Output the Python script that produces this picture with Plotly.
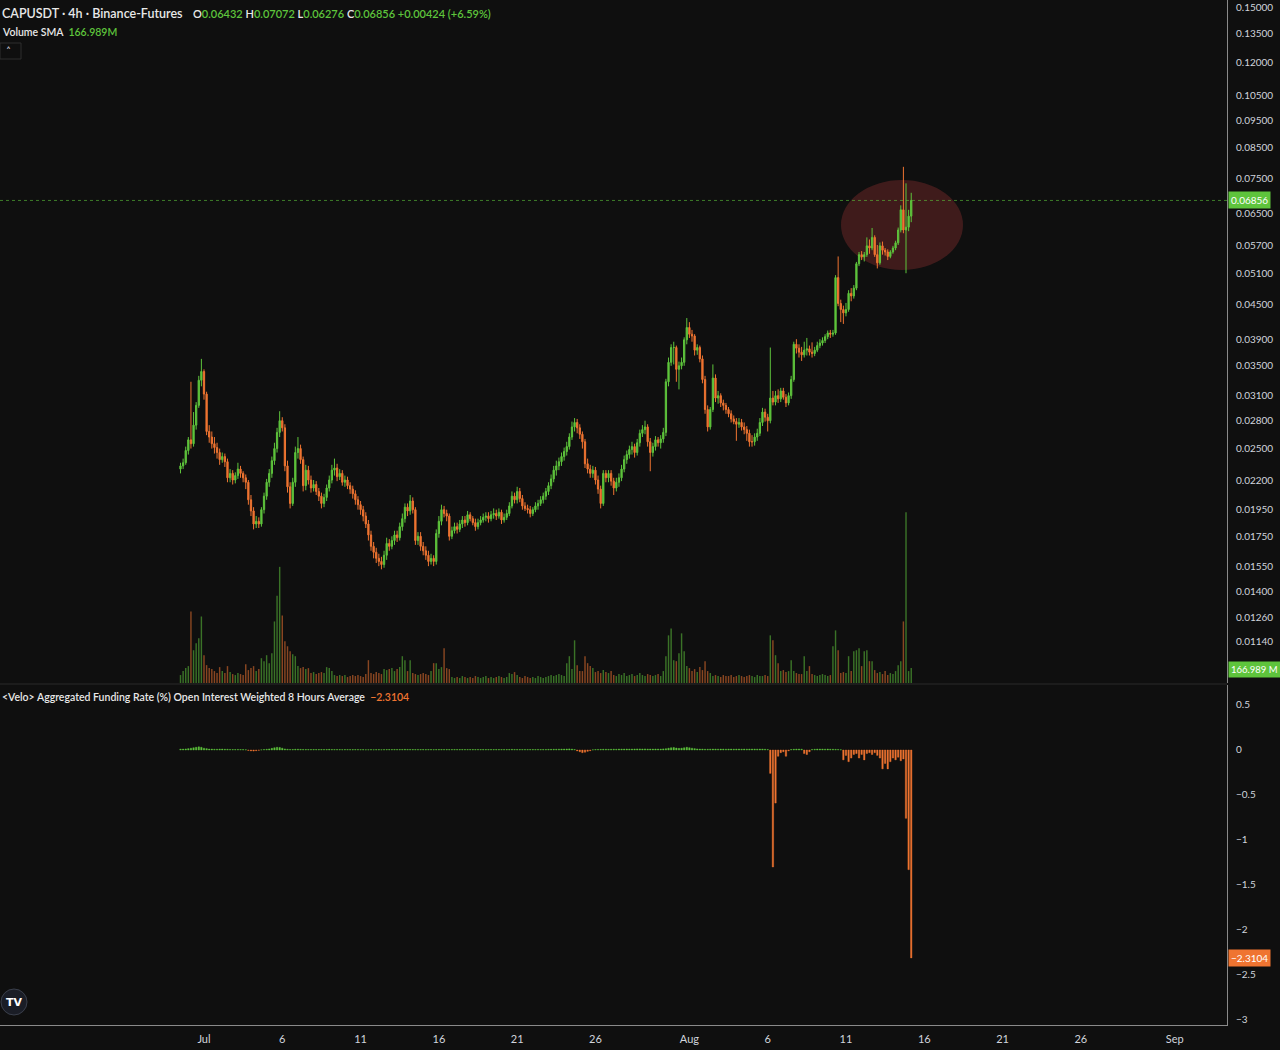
import math
import pandas as pd
import plotly.graph_objects as go

# CAPUSDT 4h candles, Jun 29 12:00 -> Aug 15 04:00
start = "2025-06-29 12:00"
closes = [
    0.0233, 0.0236, 0.0248, 0.0259, 0.0255, 0.0275, 0.0298, 0.0330, 0.0342, 0.0312,
    0.0268, 0.0262, 0.0255, 0.0251, 0.0246, 0.0239, 0.0242, 0.0237, 0.0222, 0.0226,
    0.0220, 0.0224, 0.0230, 0.0226, 0.0222, 0.0218, 0.0203, 0.0194, 0.0184, 0.0186,
    0.0184, 0.0195, 0.0206, 0.0218, 0.0226, 0.0238, 0.0250, 0.0267, 0.0280, 0.0272,
    0.0233, 0.0214, 0.0200, 0.0218, 0.0246, 0.0250, 0.0239, 0.0215, 0.0229, 0.0220,
    0.0213, 0.0216, 0.0210, 0.0206, 0.0200, 0.0205, 0.0213, 0.0220, 0.0229, 0.0231,
    0.0223, 0.0226, 0.0218, 0.0220, 0.0215, 0.0212, 0.0208, 0.0203, 0.0199, 0.0195,
    0.0190, 0.0184, 0.0176, 0.0168, 0.0164, 0.0160, 0.0158, 0.0156, 0.0162, 0.0170,
    0.0168, 0.0172, 0.0176, 0.0174, 0.0182, 0.0188, 0.0197, 0.0194, 0.0202, 0.0195,
    0.0172, 0.0175, 0.0168, 0.0165, 0.0162, 0.0158, 0.0160, 0.0158, 0.0177, 0.0186,
    0.0195, 0.0192, 0.0190, 0.0175, 0.0179, 0.0182, 0.0180, 0.0184, 0.0187, 0.0185,
    0.0191, 0.0188, 0.0185, 0.0182, 0.0185, 0.0187, 0.0189, 0.0190, 0.0188, 0.0191,
    0.0192, 0.0190, 0.0193, 0.0187, 0.0189, 0.0192, 0.0198, 0.0206, 0.0203, 0.0210,
    0.0204, 0.0198, 0.0196, 0.0195, 0.0192, 0.0195, 0.0198, 0.0200, 0.0203, 0.0206,
    0.0210, 0.0215, 0.0221, 0.0229, 0.0233, 0.0237, 0.0242, 0.0247, 0.0252, 0.0262,
    0.0273, 0.0278, 0.0272, 0.0265, 0.0257, 0.0235, 0.0230, 0.0226, 0.0229, 0.0220,
    0.0212, 0.0200, 0.0226, 0.0222, 0.0226, 0.0219, 0.0213, 0.0218, 0.0222, 0.0230,
    0.0239, 0.0244, 0.0249, 0.0252, 0.0246, 0.0256, 0.0266, 0.0270, 0.0273, 0.0257,
    0.0246, 0.0252, 0.0259, 0.0256, 0.0260, 0.0267, 0.0328, 0.0355, 0.0377, 0.0377,
    0.0345, 0.0350, 0.0355, 0.0389, 0.0409, 0.0398, 0.0395, 0.0373, 0.0377, 0.0360,
    0.0331, 0.0293, 0.0273, 0.0293, 0.0333, 0.0307, 0.0310, 0.0301, 0.0298, 0.0293,
    0.0288, 0.0282, 0.0279, 0.0276, 0.0278, 0.0273, 0.0270, 0.0266, 0.0257, 0.0257,
    0.0262, 0.0266, 0.0278, 0.0290, 0.0284, 0.0280, 0.0307, 0.0302, 0.0310, 0.0306,
    0.0316, 0.0308, 0.0301, 0.0310, 0.0331, 0.0382, 0.0376, 0.0370, 0.0366, 0.0373,
    0.0375, 0.0370, 0.0368, 0.0373, 0.0380, 0.0384, 0.0388, 0.0394, 0.0400, 0.0398,
    0.0400, 0.0501, 0.0451, 0.0440, 0.0434, 0.0440, 0.0470, 0.0465, 0.0480, 0.0530,
    0.0550, 0.0545, 0.0550, 0.0570, 0.0565, 0.0590, 0.0550, 0.0532, 0.0570, 0.0560,
    0.0556, 0.0546, 0.0556, 0.0565, 0.0577, 0.0608, 0.0660, 0.0608, 0.0615, 0.06432, 0.06856,
]
highs = [
    0.0236, 0.0240, 0.0252, 0.0262, 0.0328, 0.0290, 0.0302, 0.0336, 0.0360, 0.0345,
    0.0315, 0.0275, 0.0268, 0.0262, 0.0256, 0.0250, 0.0246, 0.0245, 0.0240, 0.0230,
    0.0229, 0.0227, 0.0236, 0.0233, 0.0228, 0.0225, 0.0220, 0.0207, 0.0197, 0.0190,
    0.0189, 0.0197, 0.0209, 0.0221, 0.0230, 0.0242, 0.0256, 0.0272, 0.0291, 0.0284,
    0.0276, 0.0238, 0.0218, 0.0222, 0.0252, 0.0262, 0.0254, 0.0242, 0.0234, 0.0233,
    0.0224, 0.0220, 0.0219, 0.0213, 0.0209, 0.0208, 0.0216, 0.0224, 0.0234, 0.0240,
    0.0235, 0.0230, 0.0229, 0.0224, 0.0223, 0.0218, 0.0215, 0.0211, 0.0206, 0.0202,
    0.0198, 0.0193, 0.0187, 0.0179, 0.0171, 0.0167, 0.0163, 0.0161, 0.0165, 0.0174,
    0.0173, 0.0175, 0.0179, 0.0179, 0.0185, 0.0192, 0.0200, 0.0200, 0.0207, 0.0205,
    0.0197, 0.0178, 0.0178, 0.0171, 0.0168, 0.0165, 0.0163, 0.0162, 0.0180, 0.0190,
    0.0199, 0.0198, 0.0195, 0.0192, 0.0182, 0.0185, 0.0185, 0.0187, 0.0190, 0.0190,
    0.0194, 0.0193, 0.0190, 0.0188, 0.0188, 0.0190, 0.0192, 0.0193, 0.0193, 0.0194,
    0.0196, 0.0195, 0.0196, 0.0195, 0.0192, 0.0195, 0.0201, 0.0210, 0.0209, 0.0214,
    0.0213, 0.0207, 0.0201, 0.0199, 0.0198, 0.0197, 0.0201, 0.0203, 0.0206, 0.0209,
    0.0213, 0.0218, 0.0225, 0.0233, 0.0238, 0.0241, 0.0246, 0.0251, 0.0257, 0.0266,
    0.0279, 0.0283, 0.0282, 0.0276, 0.0268, 0.0260, 0.0240, 0.0234, 0.0233, 0.0232,
    0.0224, 0.0215, 0.0229, 0.0229, 0.0229, 0.0229, 0.0222, 0.0222, 0.0226, 0.0234,
    0.0243, 0.0248, 0.0253, 0.0257, 0.0255, 0.0260, 0.0270, 0.0275, 0.0280, 0.0276,
    0.0261, 0.0256, 0.0263, 0.0262, 0.0264, 0.0272, 0.0332, 0.0362, 0.0382, 0.0386,
    0.0380, 0.0356, 0.0362, 0.0393, 0.0425, 0.0418, 0.0405, 0.0398, 0.0382, 0.0380,
    0.0365, 0.0336, 0.0298, 0.0296, 0.0352, 0.0338, 0.0316, 0.0313, 0.0305, 0.0301,
    0.0296, 0.0292, 0.0286, 0.0283, 0.0283, 0.0282, 0.0278, 0.0274, 0.0270, 0.0264,
    0.0266, 0.0271, 0.0283, 0.0295, 0.0294, 0.0288, 0.0377, 0.0316, 0.0316, 0.0318,
    0.0320, 0.0320, 0.0312, 0.0314, 0.0336, 0.0386, 0.0390, 0.0382, 0.0378, 0.0386,
    0.0392, 0.0380, 0.0385, 0.0378, 0.0386, 0.0390, 0.0393, 0.0398, 0.0404, 0.0405,
    0.0405, 0.0506, 0.0546, 0.0458, 0.0447, 0.0452, 0.0476, 0.0480, 0.0486, 0.0534,
    0.0556, 0.0558, 0.0556, 0.0590, 0.0585, 0.0613, 0.0595, 0.0572, 0.0578, 0.0580,
    0.0565, 0.0562, 0.0560, 0.0570, 0.0582, 0.0614, 0.0672, 0.0786, 0.0735, 0.0660, 0.07072,
]
lows = [
    0.0226, 0.0230, 0.0234, 0.0244, 0.0250, 0.0252, 0.0270, 0.0295, 0.0322, 0.0305,
    0.0264, 0.0256, 0.0250, 0.0245, 0.0240, 0.0234, 0.0236, 0.0232, 0.0218, 0.0218,
    0.0216, 0.0217, 0.0221, 0.0222, 0.0218, 0.0212, 0.0199, 0.0190, 0.0180, 0.0181,
    0.0181, 0.0182, 0.0192, 0.0203, 0.0214, 0.0222, 0.0234, 0.0246, 0.0262, 0.0268,
    0.0228, 0.0209, 0.0196, 0.0198, 0.0214, 0.0240, 0.0235, 0.0210, 0.0211, 0.0216,
    0.0209, 0.0210, 0.0207, 0.0202, 0.0196, 0.0197, 0.0202, 0.0210, 0.0217, 0.0224,
    0.0219, 0.0220, 0.0215, 0.0214, 0.0212, 0.0208, 0.0204, 0.0199, 0.0195, 0.0191,
    0.0186, 0.0181, 0.0172, 0.0165, 0.0160, 0.0157, 0.0155, 0.0153, 0.0154, 0.0159,
    0.0165, 0.0166, 0.0169, 0.0171, 0.0172, 0.0179, 0.0185, 0.0190, 0.0191, 0.0192,
    0.0169, 0.0169, 0.0165, 0.0162, 0.0159, 0.0155, 0.0156, 0.0155, 0.0156, 0.0174,
    0.0183, 0.0189, 0.0186, 0.0172, 0.0173, 0.0177, 0.0177, 0.0178, 0.0181, 0.0182,
    0.0183, 0.0186, 0.0183, 0.0179, 0.0180, 0.0183, 0.0185, 0.0186, 0.0185, 0.0186,
    0.0188, 0.0187, 0.0188, 0.0184, 0.0185, 0.0187, 0.0190, 0.0196, 0.0200, 0.0200,
    0.0201, 0.0195, 0.0194, 0.0192, 0.0189, 0.0190, 0.0193, 0.0195, 0.0198, 0.0200,
    0.0203, 0.0207, 0.0212, 0.0218, 0.0224, 0.0229, 0.0233, 0.0238, 0.0243, 0.0249,
    0.0259, 0.0268, 0.0266, 0.0260, 0.0250, 0.0231, 0.0226, 0.0222, 0.0222, 0.0216,
    0.0208, 0.0196, 0.0198, 0.0218, 0.0218, 0.0215, 0.0207, 0.0210, 0.0214, 0.0219,
    0.0227, 0.0235, 0.0240, 0.0244, 0.0241, 0.0243, 0.0252, 0.0262, 0.0265, 0.0252,
    0.0228, 0.0242, 0.0248, 0.0252, 0.0250, 0.0256, 0.0263, 0.0322, 0.0350, 0.0352,
    0.0328, 0.0318, 0.0345, 0.0350, 0.0382, 0.0392, 0.0386, 0.0365, 0.0366, 0.0355,
    0.0326, 0.0288, 0.0268, 0.0270, 0.0290, 0.0302, 0.0300, 0.0296, 0.0292, 0.0288,
    0.0284, 0.0278, 0.0276, 0.0258, 0.0272, 0.0269, 0.0265, 0.0258, 0.0252, 0.0252,
    0.0253, 0.0258, 0.0263, 0.0274, 0.0279, 0.0268, 0.0277, 0.0298, 0.0298, 0.0301,
    0.0302, 0.0305, 0.0296, 0.0298, 0.0306, 0.0328, 0.0368, 0.0362, 0.0357, 0.0362,
    0.0365, 0.0365, 0.0362, 0.0364, 0.0370, 0.0376, 0.0380, 0.0384, 0.0390, 0.0392,
    0.0394, 0.0397, 0.0446, 0.0418, 0.0415, 0.0428, 0.0436, 0.0455, 0.0460, 0.0476,
    0.0525, 0.0538, 0.0535, 0.0545, 0.0552, 0.0560, 0.0545, 0.0520, 0.0528, 0.0550,
    0.0548, 0.0538, 0.0542, 0.0552, 0.0560, 0.0572, 0.0602, 0.0600, 0.0510, 0.0605, 0.06276,
]
first_open = 0.0230
opens = [first_open] + closes[:-1]

volume = [
    8, 12, 15, 17, 72, 33, 40, 45, 67, 28,
    18, 15, 14, 12, 10, 16, 12, 10, 17, 11,
    9, 8, 10, 9, 8, 19, 13, 15, 17, 12,
    14, 25, 22, 28, 20, 30, 62, 88, 117, 68,
    42, 37, 32, 29, 27, 17, 15, 16, 14, 15,
    10, 11, 9, 10, 11, 10, 16, 15, 12, 8,
    7, 8, 7, 8, 6, 7, 8, 7, 8, 7,
    6, 9, 23, 10, 9, 11, 10, 9, 14, 13,
    14, 15, 12, 14, 16, 27, 23, 12, 23, 10,
    9, 8, 9, 10, 9, 8, 12, 20, 20, 14,
    16, 35, 15, 14, 6, 5, 6, 5, 7, 6,
    5, 6, 5, 7, 6, 5, 6, 7, 5, 6,
    5, 6, 7, 6, 5, 6, 10, 9, 11, 8,
    6, 5, 7, 6, 5, 6, 5, 7, 6, 5,
    6, 7, 8, 7, 8, 9, 8, 7, 20, 27,
    14, 43, 18, 12, 12, 27, 20, 17, 15, 11,
    12, 10, 13, 11, 10, 12, 8, 7, 9, 8,
    10, 7, 8, 9, 7, 8, 10, 8, 7, 9,
    8, 7, 8, 9, 7, 12, 27, 48, 55, 23,
    22, 30, 50, 32, 17, 15, 12, 14, 11, 16,
    13, 22, 12, 10, 7, 8, 7, 6, 8, 7,
    7, 8, 6, 7, 8, 7, 6, 7, 8, 7,
    6, 8, 7, 7, 8, 7, 48, 43, 28, 20,
    12, 13, 11, 12, 23, 12, 10, 9, 9, 27,
    12, 17, 9, 8, 7, 8, 9, 8, 7, 8,
    37, 53, 33, 10, 11, 10, 27, 12, 32, 33,
    35, 17, 32, 33, 22, 22, 13, 10, 11, 9,
    12, 8, 10, 9, 12, 18, 22, 62, 172, 12, 15,
]

# aggregated funding rate (%)
funding = [
    0.010, 0.010, 0.012, 0.015, 0.020, 0.025, 0.030, 0.035, 0.030, 0.020,
    0.015, 0.010, 0.010, 0.008, 0.008, 0.010, 0.010, 0.008, 0.008, 0.006,
    0.005, 0.005, 0.006, 0.005, 0.004, 0.003, -0.005, -0.010, -0.012, -0.008,
    -0.004, 0.002, 0.005, 0.008, 0.012, 0.018, 0.025, 0.030, 0.028, 0.020,
    0.012, 0.008, 0.005, 0.006, 0.008, 0.008, 0.007, 0.006, 0.006, 0.005,
    0.005, 0.006, 0.005, 0.005, 0.006, 0.005, 0.006, 0.007, 0.006, 0.005,
    0.005, 0.005, 0.004, 0.005, 0.005, 0.004, 0.004, 0.005, 0.004, 0.004,
    0.004, 0.003, 0.003, 0.004, 0.003, 0.004, 0.004, 0.003, 0.004, 0.005,
    0.005, 0.005, 0.006, 0.005, 0.006, 0.006, 0.007, 0.006, 0.006, 0.005,
    0.005, 0.004, 0.005, 0.005, 0.004, 0.005, 0.005, 0.004, 0.005, 0.006,
    0.006, 0.005, 0.006, 0.005, 0.005, 0.006, 0.005, 0.005, 0.006, 0.005,
    0.005, 0.005, 0.006, 0.005, 0.005, 0.005, 0.006, 0.005, 0.005, 0.006,
    0.005, 0.006, 0.005, 0.005, 0.006, 0.005, 0.006, 0.007, 0.006, 0.006,
    0.005, 0.005, 0.006, 0.005, 0.005, 0.006, 0.005, 0.006, 0.005, 0.006,
    0.006, 0.007, 0.007, 0.008, 0.008, 0.009, 0.010, 0.010, 0.011, 0.012,
    0.010, 0.005, -0.010, -0.020, -0.030, -0.025, -0.015, -0.008, 0.002, 0.005,
    0.006, 0.007, 0.008, 0.008, 0.007, 0.008, 0.009, 0.008, 0.010, 0.010,
    0.010, 0.011, 0.010, 0.010, 0.011, 0.012, 0.012, 0.011, 0.012, 0.010,
    0.010, 0.010, 0.011, 0.010, 0.010, 0.012, 0.015, 0.020, 0.025, 0.028,
    0.022, 0.018, 0.020, 0.025, 0.030, 0.025, 0.020, 0.015, 0.012, 0.010,
    0.010, 0.008, 0.008, 0.009, 0.010, 0.010, 0.009, 0.010, 0.010, 0.009,
    0.010, 0.010, 0.009, 0.010, 0.010, 0.009, 0.010, 0.009, 0.010, 0.010,
    0.010, 0.009, 0.010, 0.010, 0.008, 0.005, -0.26, -1.30, -0.59, -0.07,
    -0.03, -0.02, -0.07, -0.01, 0.005, 0.008, 0.010, 0.010, 0.009, -0.04,
    -0.05, -0.02, 0.006, 0.008, 0.010, 0.010, 0.010, 0.009, 0.010, 0.008,
    0.008, 0.007, 0.005, 0.003, -0.11, -0.06, -0.13, -0.09, -0.05, -0.04,
    -0.09, -0.05, -0.11, -0.04, -0.03, -0.05, -0.03, -0.06, -0.09, -0.21,
    -0.15, -0.21, -0.13, -0.09, -0.11, -0.08, -0.12, -0.10, -0.76, -1.33, -2.3104,
]
volume_sma = "166.989"

price_ticks = [0.15, 0.135, 0.12, 0.105, 0.095, 0.085, 0.075, 0.065, 0.057, 0.051,
               0.045, 0.039, 0.035, 0.031, 0.028, 0.025, 0.022, 0.0195, 0.0175,
               0.0155, 0.014, 0.0126, 0.0114]
funding_ticks = [0.5, 0, -0.5, -1, -1.5, -2, -2.5, -3]
date_ticks = ["2025-07-01", "2025-07-06", "2025-07-11", "2025-07-16", "2025-07-21",
              "2025-07-26", "2025-08-01", "2025-08-06", "2025-08-11", "2025-08-16",
              "2025-08-21", "2025-08-26", "2025-09-01"]
date_labels = ["Jul", "6", "11", "16", "21", "26", "Aug", "6", "11", "16", "21", "26", "Sep"]

bg = "#0f0f0f"
txt = "#d1d4dc"
up = "#5ec43c"
dn = "#ef7431"
font = "Lato"

t = pd.date_range(start, periods=len(closes), freq="4h")
x_range = ["2025-06-17 23:20", "2025-09-04 08:00"]


def py(p):
    # pixel row -> paper fraction (plot area is 1025 px tall)
    return 1 - p / 1025


def px(p):
    return p / 1227


vol_colors = ["rgba(94,196,60,0.55)" if c >= o else "rgba(239,116,49,0.55)"
              for o, c in zip(opens, closes)]
fund_colors = [up if v >= 0 else dn for v in funding]

fig = go.Figure()
fig.add_trace(go.Candlestick(
    x=t, open=opens, high=highs, low=lows, close=closes,
    increasing=dict(line=dict(color=up, width=1), fillcolor=up),
    decreasing=dict(line=dict(color=dn, width=1), fillcolor=dn),
    whiskerwidth=0, xaxis="x", yaxis="y", showlegend=False, hoverinfo="skip"))
fig.add_trace(go.Scatter(
    x=x_range, y=[closes[-1], closes[-1]], mode="lines",
    line=dict(color="rgba(94,196,60,0.6)", width=1, dash="dot"),
    xaxis="x", yaxis="y", showlegend=False, hoverinfo="skip"))
fig.add_trace(go.Bar(
    x=t, y=volume, marker=dict(color=vol_colors, line=dict(width=0)),
    xaxis="x", yaxis="y3", showlegend=False, hoverinfo="skip"))
fig.add_trace(go.Bar(
    x=t, y=funding, marker=dict(color=fund_colors, line=dict(color=fund_colors, width=0.4)),
    xaxis="x", yaxis="y2", showlegend=False, hoverinfo="skip"))

chg = closes[-1] - closes[-2]
pct = chg / closes[-2] * 100
g = f'<span style="color:{up}">'
ohlc = (f"O{g}{opens[-1]:.5f}</span> H{g}{highs[-1]:.5f}</span> "
        f"L{g}{lows[-1]:.5f}</span> C{g}{closes[-1]:.5f}</span> "
        f"{g}{chg:+.5f} ({pct:+.2f}%)</span>")

annotations = [
    dict(x=0, y=py(13), text="CAPUSDT · 4h · Binance-Futures",
         font=dict(size=12.5, color="#e8e8e8", family=font, weight=600)),
    dict(x=px(191), y=py(13), text=ohlc,
         font=dict(size=11, color="#e8e8e8", family=font, weight=600)),
    dict(x=0, y=py(32), text=f"Volume SMA  {g}{volume_sma}M</span>",
         font=dict(size=10.5, color="#e8e8e8", family=font, weight=600)),
    dict(x=px(4), y=py(51), text="˄", font=dict(size=10, color=txt, family="DejaVu Sans")),
    dict(x=0, y=py(697),
         text=f"&lt;Velo&gt; Aggregated Funding Rate (%) Open Interest Weighted 8 Hours Average  "
              f'<span style="color:{dn}">−{abs(funding[-1]):.4f}</span>',
         font=dict(size=10.5, color="#e8e8e8", family=font, weight=600)),
    dict(x=1, y=math.log10(closes[-1]), xref="paper", yref="y", text=f"{closes[-1]:.5f}",
         bgcolor=up, borderpad=2, xshift=1, font=dict(size=10, color="white", family=font)),
    dict(x=1, y=py(669), text=f"{volume_sma} M", bgcolor=up, borderpad=2, xshift=1,
         font=dict(size=9.5, color="white", family=font)),
    dict(x=1, y=funding[-1], xref="paper", yref="y2", text=f"−{abs(funding[-1]):.4f}",
         bgcolor=dn, borderpad=2, xshift=1, font=dict(size=10, color="white", family=font)),
    dict(x=px(14), y=py(1002), text="<b>TV</b>", xanchor="center",
         font=dict(size=11, color="white", family="DejaVu Sans")),
]
for a in annotations:
    a.setdefault("xref", "paper")
    a.setdefault("yref", "paper")
    a.setdefault("xanchor", "left")
    a.setdefault("yanchor", "middle")
    a["showarrow"] = False

shapes = [
    dict(type="circle", xref="paper", yref="paper", x0=px(841), x1=px(963),
         y0=py(270), y1=py(180), fillcolor="rgba(150,50,50,0.36)", line=dict(width=0),
         layer="below"),
    dict(type="line", xref="paper", yref="paper", x0=0, x1=1, y0=py(684), y1=py(684),
         line=dict(color="#2a2a2a", width=1)),
    dict(type="rect", xref="paper", yref="paper", x0=px(0), x1=px(21), y0=py(59), y1=py(43),
         line=dict(color="#2e2e2e", width=1)),
    dict(type="circle", xref="paper", yref="paper", x0=px(1), x1=px(27), y0=py(1015),
         y1=py(989), fillcolor="#1a1d26", line=dict(color="#3a3f4b", width=1)),
]

fig.update_layout(
    width=1280, height=1050,
    paper_bgcolor=bg, plot_bgcolor=bg,
    margin=dict(l=0, r=53, t=0, b=25),
    bargap=0.45,
    showlegend=False,
    font=dict(family=font, color=txt, size=10),
    annotations=annotations,
    shapes=shapes,
    xaxis=dict(type="date", range=x_range, domain=[0, 1], anchor="y2",
               tickvals=date_ticks, ticktext=date_labels, ticks="",
               tickfont=dict(size=11, color=txt, family=font),
               showgrid=False, zeroline=False, showline=True, linecolor="#8a8a8a",
               rangeslider=dict(visible=False), ticklabelstandoff=4),
    yaxis=dict(type="log", domain=[py(683), 1], range=[-2.016, -0.810], side="right",
               anchor="x", tickvals=price_ticks, ticktext=[f"{v:.5f}" for v in price_ticks],
               ticks="", showgrid=False, zeroline=False, showline=True, linecolor="#8a8a8a",
               tickfont=dict(size=10, color=txt, family=font), ticklabelstandoff=6),
    yaxis2=dict(domain=[0, py(685)], range=[-3.056, 0.722], side="right", anchor="x",
                tickvals=funding_ticks,
                ticktext=[("−" if v < 0 else "") + f"{abs(v):g}" for v in funding_ticks],
                ticks="", showgrid=False, zeroline=False, showline=True, linecolor="#8a8a8a",
                tickfont=dict(size=10, color=txt, family=font), ticklabelstandoff=6),
    yaxis3=dict(overlaying="y", anchor="x", range=[0, max(volume) * 4.0], visible=False),
)

# the page has an 8px body margin by default; drop it so the chart fills the window
fig.write_html("out.html", config={"displayModeBar": False},
               post_script="document.body.style.margin='0';"
               "document.body.style.background='#0f0f0f';")
